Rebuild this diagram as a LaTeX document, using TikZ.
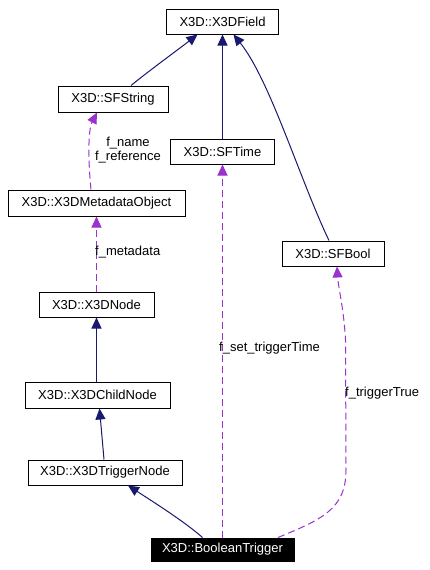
\documentclass[tikz,border=0pt]{standalone}
\usepackage{fontspec}
\setmainfont{Liberation Sans}
\usetikzlibrary{arrows.meta}
\definecolor{inhcol}{HTML}{191970}
\definecolor{usecol}{HTML}{9A32CD}
\begin{document}
\begin{tikzpicture}[x=1pt,y=-1pt,
  cls/.style={draw=black, line width=1pt, rectangle, inner sep=0pt, font=\fontsize{13}{15}\selectfont},
  lbl/.style={inner sep=0pt, font=\fontsize{13}{14}\selectfont, align=center},
  inh/.style={draw=inhcol, line width=1pt, -{Triangle[length=11pt,width=10pt]}},
  use/.style={draw=usecol, line width=1pt, dash pattern=on 7pt off 4pt, -{Triangle[length=11pt,width=10pt]}}
]
\useasboundingbox (0,0) rectangle (430,570);
\fill[white] (0,0) rectangle (430,570);

\node[cls, minimum width=112pt, minimum height=25pt] (field) at (222.5,21.5) {X3D::X3DField};
\node[cls, minimum width=110pt, minimum height=26pt] (sfstring) at (113,99) {X3D::SFString};
\node[cls, minimum width=104pt, minimum height=25pt] (sftime) at (222.5,151.5) {X3D::SFTime};
\node[cls, minimum width=177pt, minimum height=26pt] (metadata) at (96.5,203) {X3D::X3DMetadataObject};
\node[cls, minimum width=102pt, minimum height=25pt] (sfbool) at (333,253.5) {X3D::SFBool};
\node[cls, minimum width=115pt, minimum height=25pt] (xnode) at (96.5,304.5) {X3D::X3DNode};
\node[cls, minimum width=145pt, minimum height=26pt] (childnode) at (97.5,395) {X3D::X3DChildNode};
\node[cls, minimum width=154pt, minimum height=25pt] (triggernode) at (105,472.5) {X3D::X3DTriggerNode};
\node[cls, fill=black, text=white, minimum width=143pt, minimum height=23pt] (boolean) at (222.5,549.5) {X3D::BooleanTrigger};

% inheritance
\draw[inh] ([xshift=18pt]sfstring.north) .. controls (150,70) and (175,52) .. ([xshift=-25pt]field.south);
\draw[inh] (sftime.north) -- (field.south);
\draw[inh] ([xshift=-4pt]sfbool.north) .. controls (300,180) and (270,80) .. ([xshift=11pt]field.south);
\draw[inh] (xnode.south |- childnode.north) -- (xnode.south);
\draw[inh] ([xshift=-1pt]triggernode.north) -- ([xshift=2pt]childnode.south);
\draw[inh] ([xshift=-20pt]boolean.north) .. controls (185,522) and (155,503) .. ([xshift=23pt]triggernode.south);

% usage
\draw[use] ([xshift=-5.5pt]metadata.north) .. controls (88,160) and (88,130) .. ([xshift=-16pt]sfstring.south);
\draw[use] (xnode.north) -- (xnode.north |- metadata.south);
\draw[use] (boolean.north) -- (boolean.north |- sftime.south);
\draw[use] ([xshift=55.5pt]boolean.north) .. controls (320,520) and (346,510) .. (346,470) -- (345.5,340) .. controls (344,310) and (338,285) .. ([xshift=4pt]sfbool.south);

% labels
\node[lbl] (lname) at (128,150) {f\_name\\f\_reference};
\node[lbl, anchor=west] (lmeta) at (95,252) {f\_metadata};
\node[lbl, anchor=west] (ltime) at (219,348) {f\_set\_triggerTime};
\node[lbl, anchor=west] (ltrue) at (345,393) {f\_triggerTrue};
\end{tikzpicture}
\end{document}
